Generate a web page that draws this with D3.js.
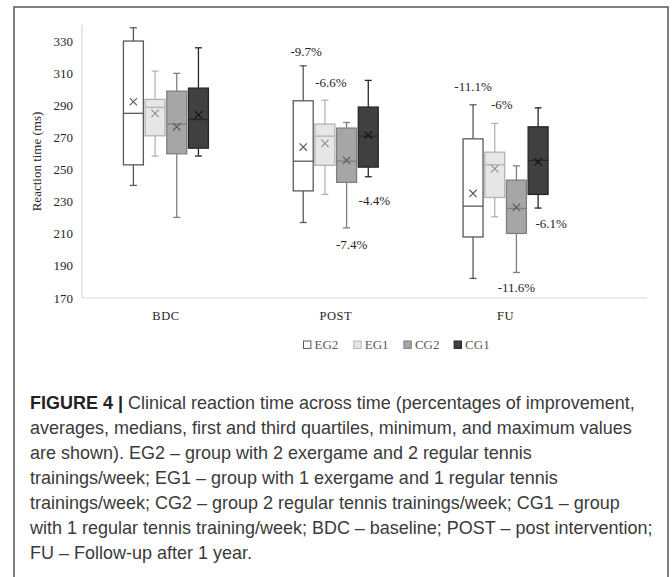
<!DOCTYPE html>
<html>
<head>
<meta charset="utf-8">
<script src="https://cdn.jsdelivr.net/npm/d3@7"></script>
<style>
  body { margin: 0; background: #fff; }
  svg { display: block; }
</style>
</head>
<body>
<div id="chart"></div>
<script>
// Data (reaction time, ms) - rows follow times, columns follow groups
const times = ['BDC', 'POST', 'FU'];
const groups = ['EG2', 'EG1', 'CG2', 'CG1'];
const yTicks = [170, 190, 210, 230, 250, 270, 290, 310, 330];

const mins    = [[240.1, 258.4, 220.2, 258.4], [217.0, 234.5, 213.7, 245.5], [182.2, 220.6, 185.9, 226.0]];
const q1s     = [[252.9, 271.0, 259.8, 263.3], [236.7, 252.6, 242.0, 251.5], [208.0, 232.6, 210.2, 234.5]];
const medians = [[285.0, 288.7, 278.3, 281.2], [255.2, 270.8, 255.2, 270.8], [227.2, 253.0, 225.8, 255.7]];
const q3s     = [[330.0, 293.7, 298.8, 300.7], [292.8, 278.3, 275.8, 288.9], [269.1, 260.8, 243.4, 276.6]];
const maxs    = [[338.3, 311.3, 309.9, 325.8], [314.6, 293.2, 279.3, 305.5], [290.3, 278.7, 252.3, 288.4]];
const means   = [[292.2, 285.0, 276.6, 284.0], [264.0, 266.3, 255.7, 271.4], [235.1, 250.5, 226.4, 254.8]];

// percentage labels: time, group, text, value where the label sits (ms)
const pctTime  = ['POST', 'POST', 'POST', 'POST', 'FU', 'FU', 'FU', 'FU'];
const pctGroup = ['EG2', 'EG1', 'CG1', 'CG2', 'EG2', 'EG1', 'CG1', 'CG2'];
const pctText  = ['-9.7%', '-6.6%', '-4.4%', '-7.4%', '-11.1%', '-6%', '-6.1%', '-11.6%'];
const pctAt    = [323.8, 304.5, 230.9, 203.3, 302.0, 290.6, 216.4, 176.5];

const caption = [
    'Clinical reaction time across time (percentages of improvement,',
    'averages, medians, first and third quartiles, minimum, and maximum values',
    'are shown). EG2 – group with 2 exergame and 2 regular tennis',
    'trainings/week; EG1 – group with 1 exergame and 1 regular tennis',
    'trainings/week; CG2 – group 2 regular tennis trainings/week; CG1 – group',
    'with 1 regular tennis training/week; BDC – baseline; POST – post intervention;',
    'FU – Follow-up after 1 year.'
];

// Styles
const style = {
    EG2: {fill: '#ffffff', stroke: '#595959', mean: '#595959'},
    EG1: {fill: '#e6e6e6', stroke: '#b3b3b3', mean: '#8c8c8c'},
    CG2: {fill: '#a6a6a6', stroke: '#7f7f7f', mean: '#595959'},
    CG1: {fill: '#404040', stroke: '#262626', mean: '#111111'}
};
// small horizontal nudges of the percentage labels (px)
const pctNudge = [3, 6, 6, 5, 0, 7, 13, 0];

const W = 672, H = 577;
const svg = d3.select('#chart').append('svg')
    .attr('width', W)
    .attr('height', H);

// Figure frame
svg.append('path')
    .attr('d', `M14,${H + 2} L14,7 L668,7 L668,${H + 2}`)
    .attr('fill', 'none')
    .attr('stroke', '#555')
    .attr('stroke-width', 1.5);

// Scales
const y = d3.scaleLinear().domain([170, 340]).range([298, 25]);
const x = d3.scaleBand().domain(times).range([81, 590.5]);
const xi = d3.scaleBand().domain(groups).range([-42.5, 42.5]).paddingInner(0.08);
const bw = xi.bandwidth();

const serif = '"Liberation Serif", "Times New Roman", serif';

// Axes lines
svg.append('line')
    .attr('x1', 82).attr('x2', 82)
    .attr('y1', y(340)).attr('y2', y(170))
    .attr('stroke', '#d9d9d9').attr('stroke-width', 1.2);
svg.append('line')
    .attr('x1', 82).attr('x2', 647)
    .attr('y1', y(170)).attr('y2', y(170))
    .attr('stroke', '#d9d9d9').attr('stroke-width', 1.2);

// Y tick labels
svg.append('g')
    .selectAll('text')
    .data(yTicks)
    .join('text')
    .attr('x', 73)
    .attr('y', d => y(d))
    .attr('dy', '0.35em')
    .attr('text-anchor', 'end')
    .attr('font-family', serif)
    .attr('font-size', 13)
    .attr('fill', '#262626')
    .text(d => d);

svg.append('text')
    .attr('transform', `translate(41,${(y(170) + y(340)) / 2}) rotate(-90)`)
    .attr('text-anchor', 'middle')
    .attr('font-family', serif)
    .attr('font-size', 13)
    .attr('fill', '#262626')
    .text('Reaction time (ms)');

// X category labels
svg.append('g')
    .selectAll('text')
    .data(times)
    .join('text')
    .attr('x', d => x(d) + x.bandwidth() / 2)
    .attr('y', 316)
    .attr('dy', '0.35em')
    .attr('text-anchor', 'middle')
    .attr('font-family', serif)
    .attr('font-size', 12.5)
    .attr('letter-spacing', 0.5)
    .attr('fill', '#262626')
    .text(d => d);

// Boxes
const boxes = [];
times.forEach((t, ti) => {
    groups.forEach((g, gi) => {
        boxes.push({
            time: t, group: g,
            min: mins[ti][gi], q1: q1s[ti][gi], med: medians[ti][gi],
            q3: q3s[ti][gi], max: maxs[ti][gi], mean: means[ti][gi]
        });
    });
});

const bx = d => x(d.time) + x.bandwidth() / 2 + xi(d.group);

const box = svg.append('g')
    .selectAll('g')
    .data(boxes)
    .join('g');

// whiskers
box.append('line')
    .attr('x1', d => bx(d) + bw / 2).attr('x2', d => bx(d) + bw / 2)
    .attr('y1', d => y(d.max)).attr('y2', d => y(d.q3))
    .attr('stroke', d => style[d.group].stroke).attr('stroke-width', 1.3);
box.append('line')
    .attr('x1', d => bx(d) + bw / 2).attr('x2', d => bx(d) + bw / 2)
    .attr('y1', d => y(d.q1)).attr('y2', d => y(d.min))
    .attr('stroke', d => style[d.group].stroke).attr('stroke-width', 1.3);
// caps
['max', 'min'].forEach(k => {
    box.append('line')
        .attr('x1', d => bx(d) + bw / 2 - 3.5).attr('x2', d => bx(d) + bw / 2 + 3.5)
        .attr('y1', d => y(d[k])).attr('y2', d => y(d[k]))
        .attr('stroke', d => style[d.group].stroke).attr('stroke-width', 1.3);
});
// box
box.append('rect')
    .attr('x', d => bx(d))
    .attr('width', bw)
    .attr('y', d => y(d.q3))
    .attr('height', d => y(d.q1) - y(d.q3))
    .attr('fill', d => style[d.group].fill)
    .attr('stroke', d => style[d.group].stroke)
    .attr('stroke-width', 1.3);
// median
box.append('line')
    .attr('x1', d => bx(d)).attr('x2', d => bx(d) + bw)
    .attr('y1', d => y(d.med)).attr('y2', d => y(d.med))
    .attr('stroke', d => style[d.group].stroke).attr('stroke-width', 1.3);
// mean marker (x)
box.append('path')
    .attr('d', d => {
        const cx = bx(d) + bw / 2, cy = y(d.mean), r = 3.7;
        return `M${cx - r},${cy - r}L${cx + r},${cy + r}M${cx - r},${cy + r}L${cx + r},${cy - r}`;
    })
    .attr('stroke', d => style[d.group].mean)
    .attr('stroke-width', 1.1)
    .attr('fill', 'none');

// Percentage labels
svg.append('g')
    .selectAll('text')
    .data(pctText)
    .join('text')
    .attr('x', (d, i) => x(pctTime[i]) + x.bandwidth() / 2 + xi(pctGroup[i]) + bw / 2 + pctNudge[i])
    .attr('y', (d, i) => y(pctAt[i]))
    .attr('dy', '0.35em')
    .attr('text-anchor', 'middle')
    .attr('font-family', serif)
    .attr('font-size', 13)
    .attr('fill', '#262626')
    .text(d => d);

// Legend
const legend = svg.append('g')
    .attr('transform', 'translate(303.5,344.7)')
    .selectAll('g')
    .data(groups)
    .join('g')
    .attr('transform', (d, i) => `translate(${i * 50.2},0)`);
legend.append('rect')
    .attr('x', 0).attr('y', -3.7)
    .attr('width', 7.4).attr('height', 7.4)
    .attr('fill', d => style[d].fill)
    .attr('stroke', d => style[d].stroke)
    .attr('stroke-width', 1);
legend.append('text')
    .attr('x', 11)
    .attr('dy', '0.35em')
    .attr('font-family', serif)
    .attr('font-size', 13)
    .attr('fill', '#595959')
    .text(d => d);

// Caption
const cap = svg.append('g')
    .attr('font-family', '"Liberation Sans", Arial, sans-serif')
    .attr('font-size', 18)
    .attr('fill', '#3a3a3a');
const capLines = cap.selectAll('text')
    .data(caption)
    .join('text')
    .attr('x', 30)
    .attr('y', (d, i) => 403 + i * 25)
    .attr('dy', '0.35em')
    .each(function(d, i) {
        const t = d3.select(this);
        if (i === 0) {
            t.append('tspan').attr('font-weight', 'bold').attr('fill', '#222').text('FIGURE 4 | ');
        }
        t.append('tspan').text(d);
    });
// fit the first line to the width it has in the figure (x 30 -> 635)
const firstLen = capLines.node().getComputedTextLength();
cap.attr('font-size', 18 * 605 / firstLen);
</script>
</body>
</html>
